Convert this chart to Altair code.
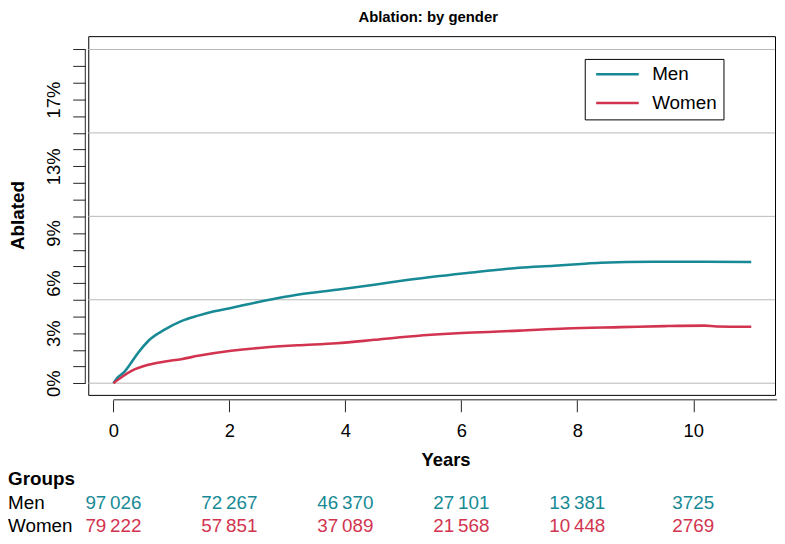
import altair as alt
import pandas as pd

# ---------------- data ----------------
title_text = "Ablation: by gender"
x_title = "Years"
y_title = "Ablated"
table_title = "Groups"
groups = ["Men", "Women"]
colors = ["#178A95", "#D23450"]

men_t = [0, 0.06, 0.18, 0.29, 0.43, 0.60, 0.89, 1.17, 1.46, 1.74, 2.03, 2.60, 3.17,
         3.85, 4.50, 5.00, 6.10, 7.00, 7.60, 8.00, 8.40, 9.30, 10.20, 11.00]
men_v = [0, 0.30, 0.65, 1.15, 1.84, 2.53, 3.22, 3.72, 4.05, 4.31, 4.51, 4.94, 5.30,
         5.60, 5.90, 6.15, 6.60, 6.92, 7.04, 7.13, 7.22, 7.28, 7.28, 7.26]

women_t = [0, 0.15, 0.32, 0.60, 0.89, 1.17, 1.46, 2.03, 2.60, 3.17, 3.85, 4.50, 5.00,
           6.10, 7.00, 7.80, 8.75, 9.50, 10.20, 10.40, 11.00]
women_v = [0, 0.39, 0.75, 1.10, 1.30, 1.44, 1.64, 1.94, 2.14, 2.27, 2.39, 2.60, 2.77,
           3.02, 3.15, 3.28, 3.36, 3.42, 3.45, 3.40, 3.38]

risk_times = [0, 2, 4, 6, 8, 10]
men_risk = [97026, 72267, 46370, 27101, 13381, 3725]
women_risk = [79222, 57851, 37089, 21568, 10448, 2769]

y_ticks = list(range(0, 21))
y_labels = [0, 3, 6, 9, 13, 17]
grid_vals = [0, 5, 10, 15, 20]
x_ticks = [0, 2, 4, 6, 8, 10]

# ---------------- layout / style ----------------
W, H = 693, 362
FONT = "Liberation Sans"
TICK_FS = 18.5
TXT_FS = 19

curves = pd.DataFrame({
    "t": men_t + women_t,
    "v": men_v + women_v,
    "group": ["Men"] * len(men_t) + ["Women"] * len(women_t),
})

xscale = alt.Scale(domain=[-0.434, 11.41], nice=False, zero=False)
yscale = alt.Scale(domain=[-0.7, 20.8], nice=False, zero=False)
color_scale = alt.Scale(domain=groups, range=colors)

label_list = ",".join(str(v) for v in y_labels)
y_label_expr = f"indexof([{label_list}], datum.value) >= 0 ? datum.value + '%' : ''"

x_axis = alt.Axis(values=x_ticks, title=None, domain=False, grid=False,
                  tickSize=12, tickColor="#222", tickWidth=1, offset=5,
                  labelFontSize=TICK_FS, labelFont=FONT, labelColor="black",
                  labelPadding=10, labelFlush=False, labelOverlap=False, format="d")
y_axis = alt.Axis(values=y_ticks, title=None, domain=False, grid=False,
                  tickSize=12.7, tickColor="#222", tickWidth=1, offset=3,
                  labelAngle=270, labelAlign="center", labelBaseline="bottom",
                  labelPadding=9, labelExpr=y_label_expr, labelOverlap=False,
                  labelFontSize=TICK_FS, labelFont=FONT, labelColor="black")

grid = alt.Chart(pd.DataFrame({"g": grid_vals})).mark_rule(
    color="#b8b8b8", strokeWidth=1
).encode(y=alt.Y("g:Q", scale=yscale, axis=y_axis))

lines = alt.Chart(curves).mark_line(strokeWidth=2.6, interpolate="monotone").encode(
    x=alt.X("t:Q", scale=xscale, axis=x_axis),
    y=alt.Y("v:Q", scale=yscale, axis=y_axis),
    color=alt.Color("group:N", scale=color_scale,
                    legend=alt.Legend(title=None, orient="none", legendX=501, legendY=23,
                                      symbolType="stroke", symbolSize=1849,
                                      symbolStrokeWidth=2.6, symbolOffset=4,
                                      labelFontSize=TXT_FS,
                                      labelFont=FONT, labelColor="black",
                                      strokeColor="black", padding=6, rowPadding=9,
                                      labelOffset=12, clipHeight=19, fillColor="white")),
)

yaxis_line = alt.Chart(pd.DataFrame({"a": [y_ticks[0]], "b": [y_ticks[-1]]})).mark_rule(
    color="#222", strokeWidth=1
).encode(y=alt.Y("a:Q", scale=yscale, axis=y_axis), y2="b:Q", x=alt.value(-3))

xaxis_line = alt.Chart(pd.DataFrame({"a": [x_ticks[0]]})).mark_rule(
    color="#222", strokeWidth=1
).encode(x=alt.X("a:Q", scale=xscale, axis=x_axis), x2=alt.value(W + 6), y=alt.value(H + 5))

title = alt.Chart(pd.DataFrame({"s": [title_text]})).mark_text(
    fontSize=15, fontWeight="bold", font=FONT, align="center", baseline="alphabetic", color="black"
).encode(text="s:N", x=alt.value(343), y=alt.value(-14.5))

xlab = alt.Chart(pd.DataFrame({"s": [x_title]})).mark_text(
    fontSize=TICK_FS, fontWeight="bold", font=FONT, align="center", baseline="alphabetic", color="black"
).encode(text="s:N", x=alt.value(361), y=alt.value(433.5))

ylab = alt.Chart(pd.DataFrame({"s": [y_title]})).mark_text(
    fontSize=TXT_FS, fontWeight="bold", font=FONT, align="center", baseline="middle",
    angle=270, color="black"
).encode(text="s:N", x=alt.value(-71), y=alt.value(181))

tbl_head = alt.Chart(pd.DataFrame({"s": [table_title]})).mark_text(
    fontSize=TXT_FS, fontWeight="bold", font=FONT, align="left", baseline="alphabetic", color="black"
).encode(text="s:N", x=alt.value(-81), y=alt.value(453))

ROW_Y = {"Men": 477, "Women": 500.3}
row_layers = []
for g, col, counts in [("Men", colors[0], men_risk), ("Women", colors[1], women_risk)]:
    row_layers.append(
        alt.Chart(pd.DataFrame({"s": [g]})).mark_text(
            fontSize=TXT_FS, font=FONT, align="left", baseline="alphabetic", color="black"
        ).encode(text="s:N", x=alt.value(-81), y=alt.value(ROW_Y[g]))
    )
    df = pd.DataFrame({"t": risk_times, "n": counts})
    row_layers.append(
        alt.Chart(df).transform_calculate(
            lab="datum.n >= 10000 ? replace(format(datum.n, ','), ',', '\u2009') : format(datum.n, 'd')"
        ).mark_text(
            fontSize=TXT_FS, font=FONT, align="center", baseline="alphabetic", color=col
        ).encode(text="lab:N", x=alt.X("t:Q", scale=xscale, axis=x_axis), y=alt.value(ROW_Y[g]))
    )

chart = alt.layer(
    grid, lines, yaxis_line, xaxis_line, title, xlab, ylab, tbl_head, *row_layers
).properties(
    width=W, height=H,
    padding={"left": 81, "top": 26, "right": 2, "bottom": 140},
    autosize=alt.AutoSizeParams(type="none"),
    background="white",
).configure_view(
    stroke="black", strokeWidth=1
)

chart.save("out.html", embed_options={"renderer": "svg", "actions": False})
